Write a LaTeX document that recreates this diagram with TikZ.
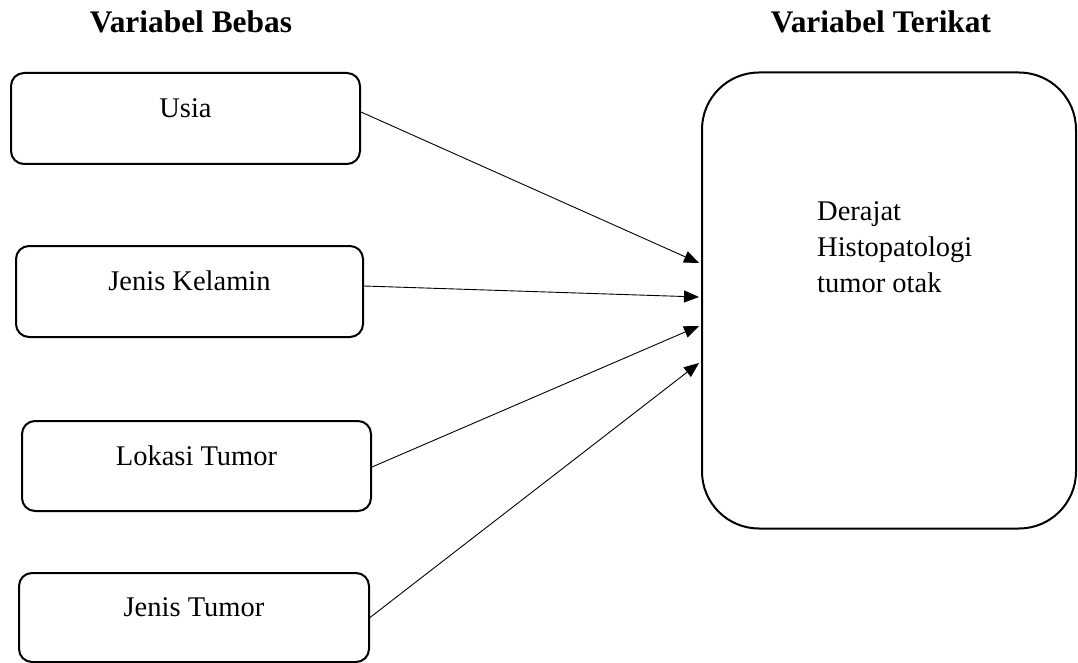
\documentclass[tikz,border=0pt]{standalone}
\usepackage{fontspec}
\setmainfont{Liberation Serif}
\usetikzlibrary{arrows.meta}
\begin{document}
\begin{tikzpicture}[x=1pt,y=-1pt,
  smallbox/.style={draw, line width=2pt, rounded corners=13pt, minimum width=348pt, minimum height=91pt, inner sep=0pt,
    font=\fontsize{28.5}{36}\selectfont, text height=19pt, text depth=21pt},
  bigbox/.style={draw, line width=2pt, rounded corners=57pt, minimum width=374pt, minimum height=456pt, inner sep=0pt},
  titletext/.style={font=\fontsize{31.4}{38}\selectfont\bfseries, anchor=base, inner sep=0pt},
  conn/.style={line width=0.9pt, -{Triangle[length=15pt,width=12pt]}}
]
\useasboundingbox (0,0) rectangle (1078,663);
\node[titletext] (tb) at (191,33) {Variabel Bebas};
\node[titletext] (tt) at (881,33) {Variabel Terikat};

\node[smallbox, minimum width=349pt] (usia) at (185.5,118.5) {Usia};
\node[smallbox, minimum width=347pt] (jk) at (189.5,291.5) {Jenis Kelamin};
\node[smallbox, minimum width=349pt, minimum height=90pt] (lt) at (196.5,466) {Lokasi Tumor};
\node[smallbox, minimum width=350pt, minimum height=89pt] (jt) at (194,617.5) {Jenis Tumor};

\node[bigbox] (dv) at (889,300.5) {};
\node[anchor=base west, align=left, inner sep=0pt, font=\fontsize{28.5}{36}\selectfont] (dt) at (817,292) {Derajat\\Histopatologi\\tumor otak};

\draw[conn] ([yshift=6.5pt]usia.east) -- ([xshift=-2pt,yshift=37.5pt]dv.west);
\draw[conn] ([yshift=5.5pt]jk.east) -- ([xshift=-2pt,yshift=3.5pt]dv.west);
\draw[conn] ([yshift=-1pt]lt.east) -- ([xshift=-2pt,yshift=-25.5pt]dv.west);
\draw[conn] (jt.east) -- ([xshift=-2pt,yshift=-62.5pt]dv.west);
\end{tikzpicture}
\end{document}
